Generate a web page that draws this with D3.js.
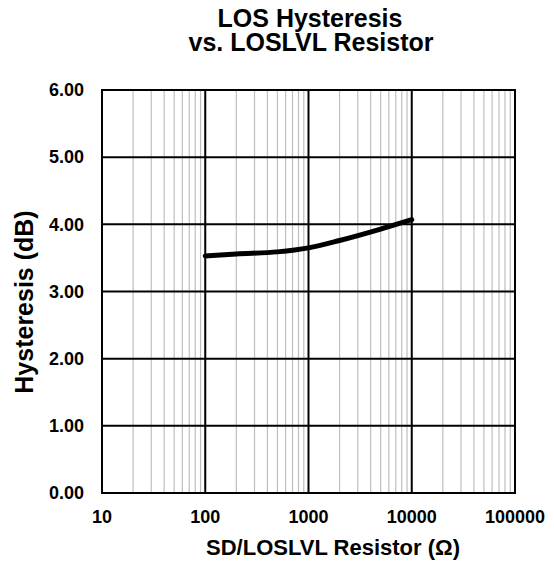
<!DOCTYPE html>
<html>
<head>
<meta charset="utf-8">
<script src="https://cdn.jsdelivr.net/npm/d3@7"></script>
<style>
  body { margin: 0; background: #fff; }
  text { font-family: "Liberation Sans", Arial, sans-serif; font-weight: bold; fill: #000; }
</style>
</head>
<body>
<div id="chart"></div>
<script>
// resistor values (ohm) and hysteresis (dB)
var resistor = [100, 200, 500, 1000, 2000, 5000, 10000];
var hysteresis = [3.53, 3.56, 3.59, 3.65, 3.76, 3.93, 4.07];

var xTicks = [10, 100, 1000, 10000, 100000];
var yTicks = [0, 1, 2, 3, 4, 5, 6];

var w = 554, h = 563;
var padL = 102, padR = 515, padT = 90, padB = 493;

var svg = d3.select("#chart").append("svg")
    .attr("width", w)
    .attr("height", h);

var x = d3.scaleLog().domain([10, 100000]).range([padL, padR]);
var y = d3.scaleLinear().domain([0, 6]).range([padB, padT]);

// minor vertical grid (2..9 of each decade)
var minor = [];
for (var d = 10; d < 100000; d *= 10) {
  for (var k = 2; k <= 9; k++) minor.push(d * k);
}
svg.append("g").selectAll("line")
    .data(minor)
    .enter().append("line")
    .attr("x1", function(v) { return x(v); })
    .attr("x2", function(v) { return x(v); })
    .attr("y1", padT)
    .attr("y2", padB)
    .attr("stroke", "#bfbfbf")
    .attr("stroke-width", 1.2);

// major grid
svg.append("g").selectAll("line")
    .data(xTicks)
    .enter().append("line")
    .attr("x1", function(v) { return x(v); })
    .attr("x2", function(v) { return x(v); })
    .attr("y1", padT)
    .attr("y2", padB)
    .attr("stroke", "#000")
    .attr("stroke-width", 2);

svg.append("g").selectAll("line")
    .data(yTicks)
    .enter().append("line")
    .attr("x1", padL)
    .attr("x2", padR)
    .attr("y1", function(v) { return y(v); })
    .attr("y2", function(v) { return y(v); })
    .attr("stroke", "#000")
    .attr("stroke-width", 2);

svg.append("rect")
    .attr("x", padL).attr("y", padT)
    .attr("width", padR - padL).attr("height", padB - padT)
    .attr("fill", "none")
    .attr("stroke", "#000")
    .attr("stroke-width", 2);

// tick labels
svg.append("g").selectAll("text")
    .data(yTicks)
    .enter().append("text")
    .attr("x", padL - 18)
    .attr("y", function(v) { return y(v); })
    .attr("dy", "0.35em")
    .attr("text-anchor", "end")
    .style("font-size", "18px")
    .text(function(v) { return d3.format(".2f")(v); });

svg.append("g").selectAll("text")
    .data(xTicks)
    .enter().append("text")
    .attr("x", function(v) { return x(v); })
    .attr("y", 523)
    .attr("text-anchor", "middle")
    .style("font-size", "18px")
    .text(function(v) { return v; });

// the curve
var line = d3.line()
    .x(function(d) { return x(d[0]); })
    .y(function(d) { return y(d[1]); })
    .curve(d3.curveMonotoneX);

svg.append("path")
    .datum(d3.zip(resistor, hysteresis))
    .attr("d", line)
    .attr("fill", "none")
    .attr("stroke", "#000")
    .attr("stroke-width", 5)
    .attr("stroke-linecap", "round");

// titles
var title = svg.append("text")
    .attr("text-anchor", "middle")
    .style("font-size", "25px");
title.append("tspan").attr("x", 310).attr("y", 27).text("LOS Hysteresis");
title.append("tspan").attr("x", 311).attr("y", 51).text("vs. LOSLVL Resistor");

svg.append("text")
    .attr("x", 333).attr("y", 555)
    .attr("text-anchor", "middle")
    .style("font-size", "22px")
    .text("SD/LOSLVL Resistor (\u03A9)");

svg.append("text")
    .attr("transform", "translate(33,302) rotate(-90)")
    .attr("text-anchor", "middle")
    .style("font-size", "25px")
    .text("Hysteresis (dB)");
</script>
</body>
</html>
